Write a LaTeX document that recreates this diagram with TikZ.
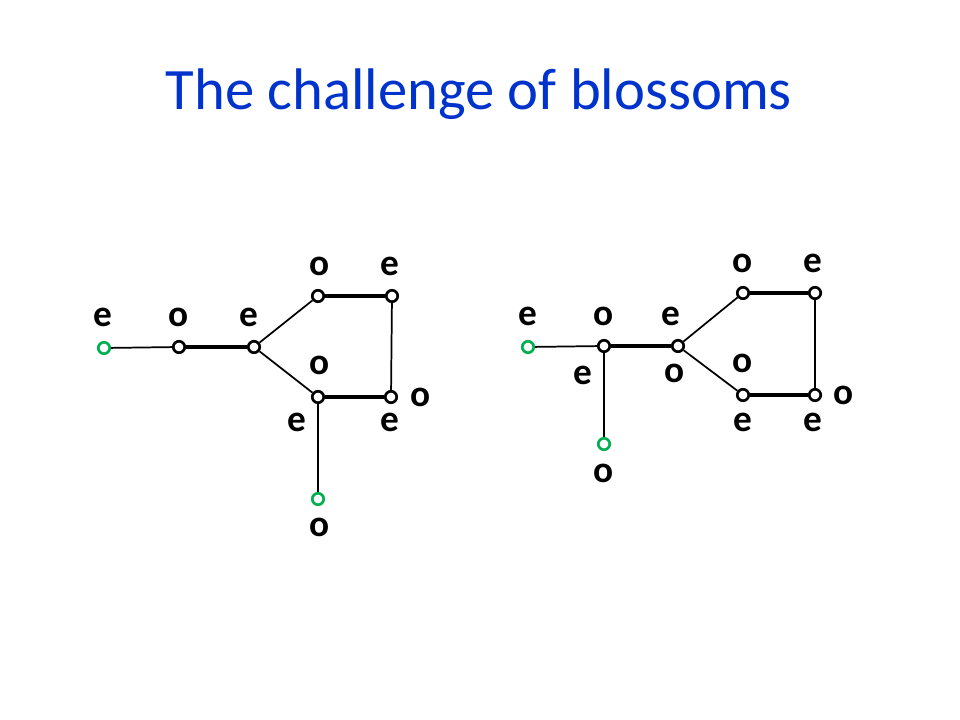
\documentclass[tikz,border=0pt]{standalone}
\usepackage{fontspec}
\setmainfont{Carlito}
\definecolor{titleblue}{RGB}{0,51,204}
\definecolor{vgreen}{RGB}{0,176,80}
\begin{document}
\begin{tikzpicture}[x=0.75pt,y=-0.75pt,
  vtx/.style={circle,draw=black,fill=white,line width=2pt,minimum size=8.6pt,inner sep=0pt},
  gvtx/.style={vtx,draw=vgreen},
  lbl/.style={inner sep=0pt,font=\fontsize{28}{30}\selectfont\bfseries},
  thin/.style={line width=1.3pt},
  thick/.style={line width=3.5pt}]
\useasboundingbox (0,0) rectangle (960,720);
\node[anchor=base,text=titleblue,font=\fontsize{44}{50}\selectfont,inner sep=0pt] (title) at (479,110) {The challenge of blossoms};
% left graph
\node[gvtx] (a1) at (104,348) {};
\node[vtx] (a2) at (179,347) {};
\node[vtx] (a3) at (254,347) {};
\node[vtx] (a4) at (318,296) {};
\node[vtx] (a5) at (392,296) {};
\node[vtx] (a6) at (318,397) {};
\node[vtx] (a7) at (391,397) {};
\node[gvtx] (a8) at (318,499) {};
\draw[thin] (a1) -- (a2);
\draw[thick] (a2) -- (a3);
\draw[thin] (a3) -- (a4);
\draw[thin] (a3) -- (a6);
\draw[thick] (a4) -- (a5);
\draw[thin] (a5) -- (a7);
\draw[thick] (a6) -- (a7);
\draw[thin] (a6) -- (a8);
\node[lbl] (la1) at (103,317) {e};
\node[lbl] (la2) at (179,317) {o};
\node[lbl] (la3) at (249,317) {e};
\node[lbl] (la4) at (320,266) {o};
\node[lbl] (la5) at (390,266) {e};
\node[lbl] (la6) at (320,365) {o};
\node[lbl] (la7) at (421,397) {o};
\node[lbl] (la8) at (297,422) {e};
\node[lbl] (la9) at (390,422) {e};
\node[lbl] (la10) at (320,527) {o};
% right graph
\node[gvtx] (b1) at (528,347) {};
\node[vtx] (b2) at (604,346) {};
\node[vtx] (b3) at (678,346) {};
\node[vtx] (b4) at (743,293) {};
\node[vtx] (b5) at (815,293) {};
\node[vtx] (b6) at (743,395) {};
\node[vtx] (b7) at (815,395) {};
\node[gvtx] (b8) at (604,444) {};
\draw[thin] (b1) -- (b2);
\draw[thick] (b2) -- (b3);
\draw[thin] (b3) -- (b4);
\draw[thin] (b3) -- (b6);
\draw[thick] (b4) -- (b5);
\draw[thin] (b5) -- (b7);
\draw[thick] (b6) -- (b7);
\draw[thin] (b2) -- (b8);
\node[lbl] (lb1) at (528,316) {e};
\node[lbl] (lb2) at (604,316) {o};
\node[lbl] (lb3) at (671,316) {e};
\node[lbl] (lb4) at (743,263) {o};
\node[lbl] (lb5) at (813,263) {e};
\node[lbl] (lb6) at (583,375) {e};
\node[lbl] (lb7) at (675,373) {o};
\node[lbl] (lb8) at (743,363) {o};
\node[lbl] (lb9) at (844,395) {o};
\node[lbl] (lb10) at (743,422) {e};
\node[lbl] (lb11) at (813,422) {e};
\node[lbl] (lb12) at (604,473) {o};
\end{tikzpicture}
\end{document}
